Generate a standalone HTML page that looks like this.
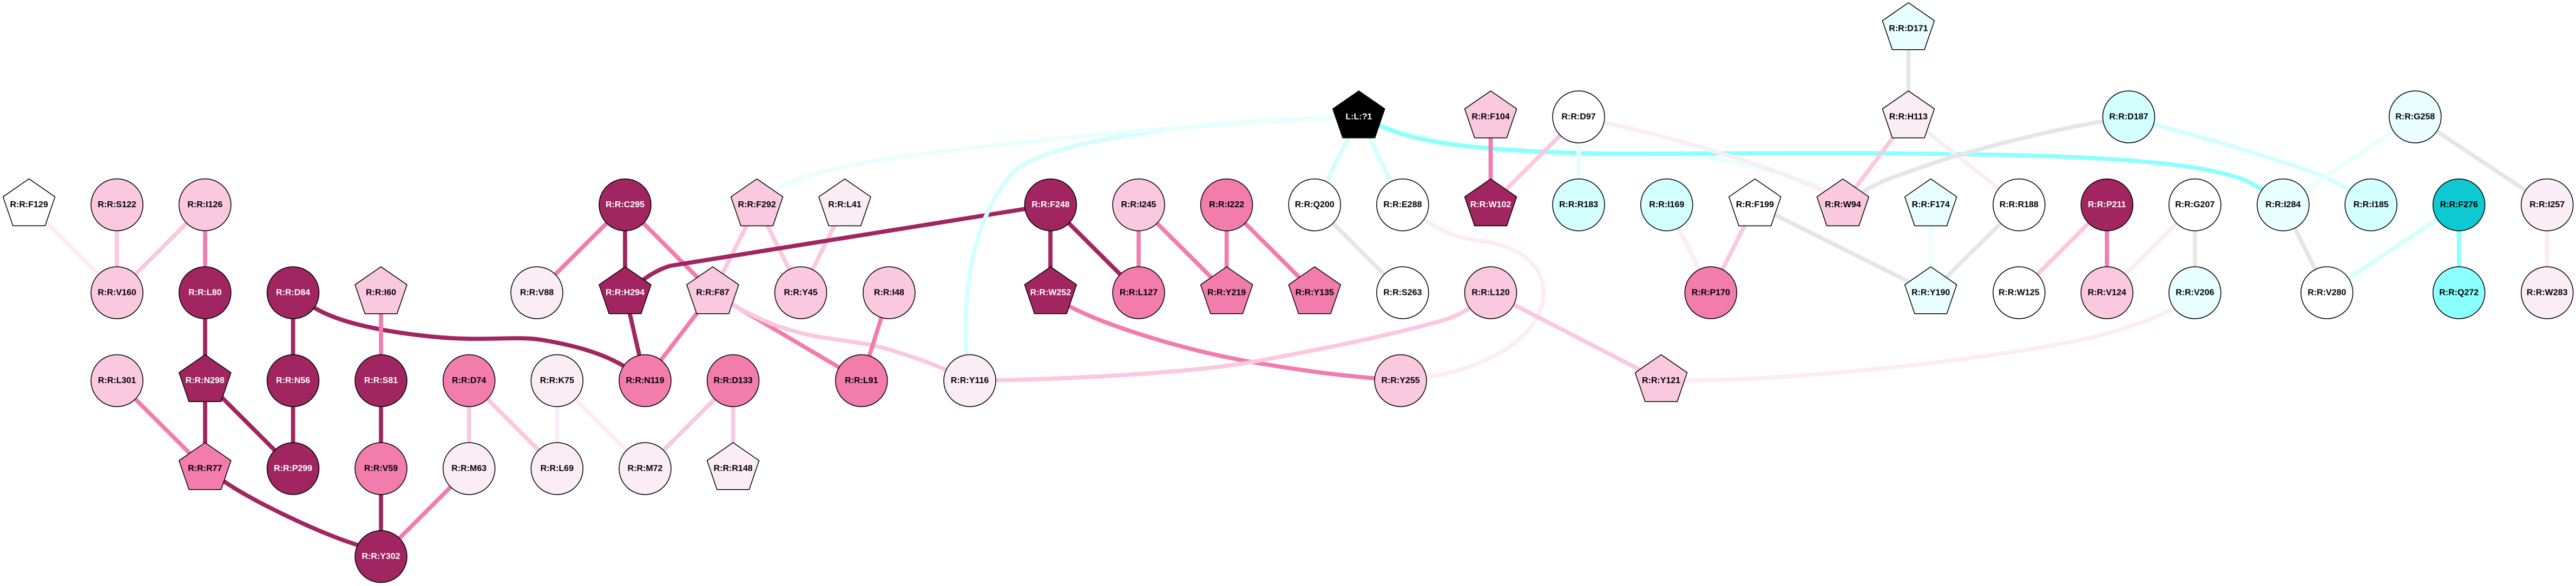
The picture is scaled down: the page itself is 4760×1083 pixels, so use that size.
<!DOCTYPE html>
<html><head><meta charset="utf-8"><style>
html,body{margin:0;padding:0;background:#fff;width:4760px;height:1083px;overflow:hidden}
svg{display:block}
.e{fill:none;stroke-width:7.7}
.d{stroke:#a12560}.m{stroke:#f27cab}.l{stroke:#fac8df}.p{stroke:#fbedf5}.g{stroke:#e6e6e6}
.c1{stroke:#d3ffff}.c2{stroke:#e9ffff}.c3{stroke:#8cffff}
.n circle,.n polygon{stroke:#000;stroke-width:1.5}
.D{fill:#a12560}.M{fill:#f27cab}.L{fill:#fac8df}.P{fill:#fbedf5}.W{fill:#fff}.C1{fill:#d3ffff}.C2{fill:#e9ffff}.C3{fill:#8cffff}.T{fill:#0ec8d2}.K{fill:#000}
text{font:bold 16px "Liberation Sans",Arial,sans-serif;text-anchor:middle;fill:#000}
text.w{fill:#fff}
</style></head><body>
<svg width="4760" height="1083" viewBox="0 0 4760 1083" xmlns="http://www.w3.org/2000/svg">
<g class="e">
<path class="e p" d="M53.6,378.5L216,541"/>
<path class="e l" d="M216,378.5V541"/>
<path class="e l" d="M379,378.5L216,541"/>
<path class="e m" d="M379,378.5V541"/>
<path class="e d" d="M379,541V703.5"/>
<path class="e d" d="M379,703.5V866"/>
<path class="e d" d="M379,703.5L541.5,866"/>
<path class="e m" d="M216,703.5L379,866"/>
<path class="e d" d="M541.5,541V703.5"/>
<path class="e d" d="M541.5,703.5V866"/>
<path class="e d" d="M379,866L413,889C470,928 590,985 660,1007L704,1028.6"/>
<path class="e d" d="M541.5,541L575,565C620,595 700,612 797,622S950,620 1000,628S1110,650 1155,678L1192,703.5"/>
<path class="e m" d="M704,541V703.5"/>
<path class="e d" d="M704,703.5V866"/>
<path class="e d" d="M704,866V1028.6"/>
<path class="e m" d="M866.7,866L704,1028.6"/>
<path class="e l" d="M866.7,703.5V866"/>
<path class="e l" d="M866.7,703.5L1029.3,866"/>
<path class="e p" d="M1029.3,703.5V866"/>
<path class="e p" d="M1029.3,703.5L1192,866"/>
<path class="e l" d="M1354.6,703.5L1192,866"/>
<path class="e l" d="M1354.6,703.5V866"/>
<path class="e m" d="M1155,378.6L992,541"/>
<path class="e d" d="M1155,378.6V541"/>
<path class="e m" d="M1155,378.6L1317,541"/>
<path class="e d" d="M1155,541L1192,703.5"/>
<path class="e m" d="M1317,541L1192,703.5"/>
<path class="e m" d="M1317,541L1592,703.5"/>
<path class="e l" d="M1317,541L1354,563C1400,590 1450,610 1500,620S1600,632 1650,648S1730,674 1792,703.5"/>
<path class="e l" d="M1399,378.6L1317,541"/>
<path class="e l" d="M1399,378.6L1480,541"/>
<path class="e l" d="M1561,378.6L1480,541"/>
<path class="e m" d="M1643,541L1592,703.5"/>
<path class="e d" d="M1941,378.6L1240,491C1215,497 1190,515 1155,541"/>
<path class="e d" d="M1941,378.6V541"/>
<path class="e d" d="M1941,378.6L2104,541"/>
<path class="e m" d="M1941,541L1976,566C2050,605 2200,650 2319,670S2480,694 2588,703.5"/>
<path class="e l" d="M1792,703.5C1950,702 2200,690 2319,668S2560,622 2670,591C2695,583 2715,572 2754.5,541"/>
<path class="e c1" d="M1792,703.5C1775,600 1780,420 1874,316C1920,280 2000,262 2159,239C2250,228 2400,220 2511,216"/>
<path class="e c2" d="M1399,378.6L1434,351C1480,320 1600,298 1701,285S2000,250 2159,238S2400,220 2511,216"/>
<path class="e m" d="M2104,378.6V541"/>
<path class="e m" d="M2104,378.6L2266.6,541"/>
<path class="e m" d="M2266.6,378.6V541"/>
<path class="e m" d="M2266.6,378.6L2429.2,541"/>
<path class="e c1" d="M2511,216L2429.2,378.6"/>
<path class="e c1" d="M2511,216L2591.8,378.6"/>
<path class="e g" d="M2429.2,378.6L2591.8,541"/>
<path class="e p" d="M2591.8,378.6L2634,407C2660,425 2690,440 2740,446C2790,452 2852,480 2852,540C2852,620 2750,680 2638,697L2588,703.5"/>
<path class="e c2" d="M2511,216C2590,250 2700,272 2800,280S3000,288 3115,288C3180,290 3280,315 3367,347L3405,378.6"/>
<path class="e c3" d="M2511,216L2548,232C2590,250 2640,262 2700,269S2880,284 3000,284S3350,282 3459,283S3780,286 3900,294S4090,312 4147,332L4181,350L4218.8,378.6"/>
<path class="e m" d="M2754.5,216V378.6"/>
<path class="e l" d="M2917,216L2754.5,378.6"/>
<path class="e c2" d="M2917,216V378.6"/>
<path class="e p" d="M2917,216L2963,226C3080,252 3250,298 3367,352L3405,378.6"/>
<path class="e l" d="M2754.5,541L3069.5,703.5"/>
<path class="e p" d="M3069.5,703.5L3118,703C3300,703 3650,670 3860,625C3920,610 3975,592 4015,571L4055.8,541"/>
<path class="e g" d="M3526.4,53V216"/>
<path class="e l" d="M3526.4,216L3405,378.6"/>
<path class="e p" d="M3526.4,216L3730.8,378.6"/>
<path class="e g" d="M3405,378.6L3442,355C3470,335 3530,316 3574,301S3750,248 3884,224.5L3933.5,216"/>
<path class="e c1" d="M3933.5,216L3980,230C4050,248 4180,285 4290,324L4342,350L4381.2,378.6"/>
<path class="e p" d="M3079.8,378.6L3161.3,541"/>
<path class="e l" d="M3242.8,378.6L3161.3,541"/>
<path class="e g" d="M3242.8,378.6L3567.7,541"/>
<path class="e c2" d="M3567.7,378.6V541"/>
<path class="e g" d="M3730.8,378.6L3567.7,541"/>
<path class="e l" d="M3893.3,378.6L3730.8,541"/>
<path class="e m" d="M3893.3,378.6V541"/>
<path class="e p" d="M4055.8,378.6L3893.3,541"/>
<path class="e g" d="M4055.8,378.6V541"/>
<path class="e c2" d="M4218.8,378.6L4462.8,216"/>
<path class="e g" d="M4218.8,378.6L4299.7,541"/>
<path class="e g" d="M4462.8,216L4706.7,378.6"/>
<path class="e p" d="M4706.7,378.6V541"/>
<path class="e c1" d="M4543.7,378.6L4299.7,541"/>
<path class="e c3" d="M4543.7,378.6V541"/>
</g>
<g class="n">
<g transform="translate(53.6,378.5)"><polygon class="W" points="0,-48 48,-14.8 29.7,38.8 -29.7,38.8 -48,-14.8"/><text y="4.5">R:R:F129</text></g>
<g transform="translate(216.2,378.5)"><circle class="L" r="48"/><text y="4.5">R:R:S122</text></g>
<g transform="translate(378.8,378.5)"><circle class="L" r="48"/><text y="4.5">R:R:I126</text></g>
<g transform="translate(216.2,541)"><circle class="L" r="48"/><text y="4.5">R:R:V160</text></g>
<g transform="translate(378.8,541)"><circle class="D" r="48"/><text class="w" y="4.5">R:R:L80</text></g>
<g transform="translate(541.5,541)"><circle class="D" r="48"/><text class="w" y="4.5">R:R:D84</text></g>
<g transform="translate(704,541)"><polygon class="L" points="0,-48 48,-14.8 29.7,38.8 -29.7,38.8 -48,-14.8"/><text y="4.5">R:R:I60</text></g>
<g transform="translate(992,541)"><circle class="P" r="48"/><text y="4.5">R:R:V88</text></g>
<g transform="translate(216.2,703.5)"><circle class="L" r="48"/><text y="4.5">R:R:L301</text></g>
<g transform="translate(378.8,703.5)"><polygon class="D" points="0,-48 48,-14.8 29.7,38.8 -29.7,38.8 -48,-14.8"/><text class="w" y="4.5">R:R:N298</text></g>
<g transform="translate(541.5,703.5)"><circle class="D" r="48"/><text class="w" y="4.5">R:R:N56</text></g>
<g transform="translate(704,703.5)"><circle class="D" r="48"/><text class="w" y="4.5">R:R:S81</text></g>
<g transform="translate(866.7,703.5)"><circle class="M" r="48"/><text y="4.5">R:R:D74</text></g>
<g transform="translate(1029.3,703.5)"><circle class="P" r="48"/><text y="4.5">R:R:K75</text></g>
<g transform="translate(1192,703.5)"><circle class="M" r="48"/><text y="4.5">R:R:N119</text></g>
<g transform="translate(1354.6,703.5)"><circle class="M" r="48"/><text y="4.5">R:R:D133</text></g>
<g transform="translate(1591.8,703.5)"><circle class="M" r="48"/><text y="4.5">R:R:L91</text></g>
<g transform="translate(1792,703.5)"><circle class="P" r="48"/><text y="4.5">R:R:Y116</text></g>
<g transform="translate(378.8,866)"><polygon class="M" points="0,-48 48,-14.8 29.7,38.8 -29.7,38.8 -48,-14.8"/><text y="4.5">R:R:R77</text></g>
<g transform="translate(541.5,866)"><circle class="D" r="48"/><text class="w" y="4.5">R:R:P299</text></g>
<g transform="translate(704,866)"><circle class="M" r="48"/><text y="4.5">R:R:V59</text></g>
<g transform="translate(866.7,866)"><circle class="P" r="48"/><text y="4.5">R:R:M63</text></g>
<g transform="translate(1029.3,866)"><circle class="P" r="48"/><text y="4.5">R:R:L69</text></g>
<g transform="translate(1192,866)"><circle class="P" r="48"/><text y="4.5">R:R:M72</text></g>
<g transform="translate(1354.6,866)"><polygon class="P" points="0,-48 48,-14.8 29.7,38.8 -29.7,38.8 -48,-14.8"/><text y="4.5">R:R:R148</text></g>
<g transform="translate(704,1028.6)"><circle class="D" r="48"/><text class="w" y="4.5">R:R:Y302</text></g>
<g transform="translate(1155,378.6)"><circle class="D" r="48"/><text class="w" y="4.5">R:R:C295</text></g>
<g transform="translate(1155,541)"><polygon class="D" points="0,-48 48,-14.8 29.7,38.8 -29.7,38.8 -48,-14.8"/><text class="w" y="4.5">R:R:H294</text></g>
<g transform="translate(1398.6,378.6)"><polygon class="L" points="0,-48 48,-14.8 29.7,38.8 -29.7,38.8 -48,-14.8"/><text y="4.5">R:R:F292</text></g>
<g transform="translate(1317,541)"><polygon class="L" points="0,-48 48,-14.8 29.7,38.8 -29.7,38.8 -48,-14.8"/><text y="4.5">R:R:F87</text></g>
<g transform="translate(1561,378.6)"><polygon class="P" points="0,-48 48,-14.8 29.7,38.8 -29.7,38.8 -48,-14.8"/><text y="4.5">R:R:L41</text></g>
<g transform="translate(1479.6,541)"><circle class="L" r="48"/><text y="4.5">R:R:Y45</text></g>
<g transform="translate(1642.9,541)"><circle class="L" r="48"/><text y="4.5">R:R:I48</text></g>
<g transform="translate(1941.3,378.6)"><circle class="D" r="48"/><text class="w" y="4.5">R:R:F248</text></g>
<g transform="translate(1941.3,541)"><polygon class="D" points="0,-48 48,-14.8 29.7,38.8 -29.7,38.8 -48,-14.8"/><text class="w" y="4.5">R:R:W252</text></g>
<g transform="translate(2104,378.6)"><circle class="L" r="48"/><text y="4.5">R:R:I245</text></g>
<g transform="translate(2104,541)"><circle class="M" r="48"/><text y="4.5">R:R:L127</text></g>
<g transform="translate(2266.6,378.6)"><circle class="M" r="48"/><text y="4.5">R:R:I222</text></g>
<g transform="translate(2266.6,541)"><polygon class="M" points="0,-48 48,-14.8 29.7,38.8 -29.7,38.8 -48,-14.8"/><text y="4.5">R:R:Y219</text></g>
<g transform="translate(2429.2,541)"><polygon class="M" points="0,-48 48,-14.8 29.7,38.8 -29.7,38.8 -48,-14.8"/><text y="4.5">R:R:Y135</text></g>
<g transform="translate(2429.2,378.6)"><circle class="W" r="48"/><text y="4.5">R:R:Q200</text></g>
<g transform="translate(2591.8,378.6)"><circle class="W" r="48"/><text y="4.5">R:R:E288</text></g>
<g transform="translate(2591.8,541)"><circle class="W" r="48"/><text y="4.5">R:R:S263</text></g>
<g transform="translate(2754.5,541)"><circle class="L" r="48"/><text y="4.5">R:R:L120</text></g>
<g transform="translate(2588,703.5)"><circle class="L" r="48"/><text y="4.5">R:R:Y255</text></g>
<g transform="translate(2510.8,216)"><polygon class="K" points="0,-48 48,-14.8 29.7,38.8 -29.7,38.8 -48,-14.8"/><text class="w" y="4.5">L:L:?1</text></g>
<g transform="translate(2754.5,216)"><polygon class="L" points="0,-48 48,-14.8 29.7,38.8 -29.7,38.8 -48,-14.8"/><text y="4.5">R:R:F104</text></g>
<g transform="translate(2754.5,378.6)"><polygon class="D" points="0,-48 48,-14.8 29.7,38.8 -29.7,38.8 -48,-14.8"/><text class="w" y="4.5">R:R:W102</text></g>
<g transform="translate(2917,216)"><circle class="W" r="48"/><text y="4.5">R:R:D97</text></g>
<g transform="translate(2917,378.6)"><circle class="C1" r="48"/><text y="4.5">R:R:R183</text></g>
<g transform="translate(3079.8,378.6)"><circle class="C1" r="48"/><text y="4.5">R:R:I169</text></g>
<g transform="translate(3161.3,541)"><circle class="M" r="48"/><text y="4.5">R:R:P170</text></g>
<g transform="translate(3069.5,703.5)"><polygon class="L" points="0,-48 48,-14.8 29.7,38.8 -29.7,38.8 -48,-14.8"/><text y="4.5">R:R:Y121</text></g>
<g transform="translate(3242.8,378.6)"><polygon class="W" points="0,-48 48,-14.8 29.7,38.8 -29.7,38.8 -48,-14.8"/><text y="4.5">R:R:F199</text></g>
<g transform="translate(3405.3,378.6)"><polygon class="L" points="0,-48 48,-14.8 29.7,38.8 -29.7,38.8 -48,-14.8"/><text y="4.5">R:R:W94</text></g>
<g transform="translate(3526.4,53)"><polygon class="C2" points="0,-48 48,-14.8 29.7,38.8 -29.7,38.8 -48,-14.8"/><text y="4.5">R:R:D171</text></g>
<g transform="translate(3526.4,216)"><polygon class="P" points="0,-48 48,-14.8 29.7,38.8 -29.7,38.8 -48,-14.8"/><text y="4.5">R:R:H113</text></g>
<g transform="translate(3567.7,378.6)"><polygon class="C2" points="0,-48 48,-14.8 29.7,38.8 -29.7,38.8 -48,-14.8"/><text y="4.5">R:R:F174</text></g>
<g transform="translate(3567.7,541)"><polygon class="C2" points="0,-48 48,-14.8 29.7,38.8 -29.7,38.8 -48,-14.8"/><text y="4.5">R:R:Y190</text></g>
<g transform="translate(3730.8,378.6)"><circle class="W" r="48"/><text y="4.5">R:R:R188</text></g>
<g transform="translate(3730.8,541)"><circle class="W" r="48"/><text y="4.5">R:R:W125</text></g>
<g transform="translate(3893.3,378.6)"><circle class="D" r="48"/><text class="w" y="4.5">R:R:P211</text></g>
<g transform="translate(3893.3,541)"><circle class="L" r="48"/><text y="4.5">R:R:V124</text></g>
<g transform="translate(3933.5,216)"><circle class="C1" r="48"/><text y="4.5">R:R:D187</text></g>
<g transform="translate(4055.8,378.6)"><circle class="W" r="48"/><text y="4.5">R:R:G207</text></g>
<g transform="translate(4055.8,541)"><circle class="C2" r="48"/><text y="4.5">R:R:V206</text></g>
<g transform="translate(4218.8,378.6)"><circle class="C2" r="48"/><text y="4.5">R:R:I284</text></g>
<g transform="translate(4299.7,541)"><circle class="W" r="48"/><text y="4.5">R:R:V280</text></g>
<g transform="translate(4381.2,378.6)"><circle class="C1" r="48"/><text y="4.5">R:R:I185</text></g>
<g transform="translate(4462.8,216)"><circle class="C2" r="48"/><text y="4.5">R:R:G258</text></g>
<g transform="translate(4543.7,378.6)"><circle class="T" r="48"/><text y="4.5">R:R:F276</text></g>
<g transform="translate(4543.7,541)"><circle class="C3" r="48"/><text y="4.5">R:R:Q272</text></g>
<g transform="translate(4706.7,378.6)"><circle class="P" r="48"/><text y="4.5">R:R:I257</text></g>
<g transform="translate(4706.7,541)"><circle class="P" r="48"/><text y="4.5">R:R:W283</text></g>
</g>
</svg>
</body></html>
